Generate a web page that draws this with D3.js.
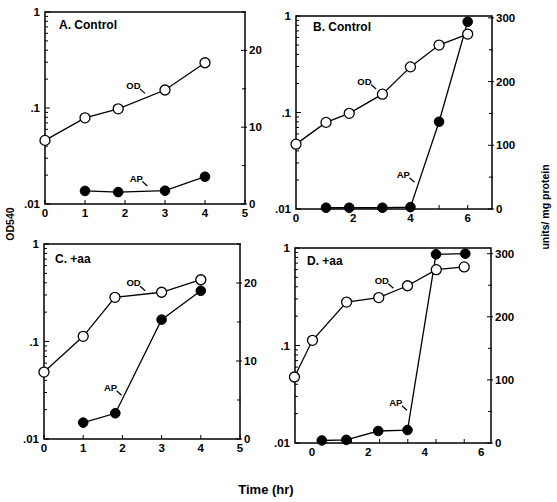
<!DOCTYPE html>
<html>
<head>
<meta charset="utf-8">
<script src="https://cdn.jsdelivr.net/npm/d3@7"></script>
<style>
  html, body { margin: 0; padding: 0; background: #fff; }
  text { font-family: "Liberation Sans", Arial, Helvetica, sans-serif; font-weight: bold; fill: #000; }
</style>
</head>
<body>
<svg id="chart" width="557" height="502"></svg>
<script>
// ---------------- DATA ----------------
// Panel A. Control
const odTimeA = [0, 1, 1.83, 3, 4];
const odA     = [0.046, 0.079, 0.098, 0.154, 0.296];
const apTimeA = [1, 1.83, 3, 4];
const apA     = [1.7, 1.55, 1.73, 3.55];

// Panel B. Control
const odTimeB = [0, 1.05, 1.86, 3.02, 4.0, 5.0, 6.0];
const odB     = [0.047, 0.079, 0.098, 0.155, 0.297, 0.50, 0.65];
const apTimeB = [1.05, 1.86, 3.02, 4.0, 5.0, 6.0];
const apB     = [2, 2, 2, 3, 137, 294];

// Panel C. +aa
const odTimeC = [0, 1, 1.81, 3, 4];
const odC     = [0.0486, 0.113, 0.284, 0.32, 0.43];
const apTimeC = [1, 1.82, 3, 4];
const apC     = [2.1, 3.3, 15.3, 19.0];

// Panel D. +aa
const odTimeD = [-0.62, 0.02, 1.23, 2.37, 3.39, 4.41, 5.4];
const odD     = [0.0475, 0.113, 0.279, 0.31, 0.41, 0.60, 0.64];
const apTimeD = [0.35, 1.22, 2.35, 3.39, 4.4, 5.44];
const apD     = [4, 5, 19, 20.5, 299, 300];

// Titles
const titles = ["A. Control", "B. Control", "C. +aa", "D. +aa"];

// Tick labels
const leftTickValues = [0.01, 0.1, 1];
const leftTickLabels = [".01", ".1", "1"];
const xTicksAC = [0, 1, 2, 3, 4, 5];
const xTicksBD = [0, 2, 4, 6];
const xMinorB  = [1, 2, 3, 4, 5, 6];
const xMinorD  = [0.4, 1.4, 2.4, 3.4, 4.4, 5.4];
const rightTicksAC = [0, 10, 20];
const rightMinorAC = [5, 15, 25];
const rightTicksBD = [0, 100, 200, 300];
const rightMinorBD = [50, 150, 250];

// Annotation anchors (data space: time, value)
const odLabelAt = [[2.5, 0.142], [2.8, 0.175], [2.58, 0.332], [2.89, 0.386]];
const apLabelAt = [[2.56, 2.34], [4.14, 42], [1.98, 5.6], [3.37, 52]];

// ---------------- LAYOUT ----------------
const layout = [
  { left: 45,  right: 245, top: 12,  bottom: 204, xDomain: [0, 5],        rDomain: [0, 25],  titleDx: 14, titleDy: 17 },
  { left: 296, right: 492, top: 16,  bottom: 209, xDomain: [0, 6.85],     rDomain: [0, 303], titleDx: 17, titleDy: 15 },
  { left: 44,  right: 240, top: 244, bottom: 439, xDomain: [0, 5],        rDomain: [0, 25],  titleDx: 11, titleDy: 18.5 },
  { left: 295, right: 491, top: 248, bottom: 443, xDomain: [-0.6, 6.35],  rDomain: [0, 309], titleDx: 12, titleDy: 17 }
];

const panels = [
  { od: [odTimeA, odA], ap: [apTimeA, apA], xTicks: xTicksAC, xMinor: xTicksAC, rTicks: rightTicksAC, rMinor: rightMinorAC },
  { od: [odTimeB, odB], ap: [apTimeB, apB], xTicks: xTicksBD, xMinor: xMinorB,  rTicks: rightTicksBD, rMinor: rightMinorBD },
  { od: [odTimeC, odC], ap: [apTimeC, apC], xTicks: xTicksAC, xMinor: xTicksAC, rTicks: rightTicksAC, rMinor: rightMinorAC },
  { od: [odTimeD, odD], ap: [apTimeD, apD], xTicks: xTicksBD, xMinor: xMinorD,  rTicks: rightTicksBD, rMinor: rightMinorBD }
];

const svg = d3.select("#chart");
svg.append("rect").attr("width", 557).attr("height", 502).attr("fill", "#fff");

panels.forEach((p, i) => {
  const L = layout[i];
  const g = svg.append("g");
  const x = d3.scaleLinear().domain(L.xDomain).range([L.left, L.right]);
  const yL = d3.scaleLog().domain([0.01, 1]).range([L.bottom, L.top]);
  const yR = d3.scaleLinear().domain(L.rDomain).range([L.bottom, L.top]);

  // frame
  g.append("rect")
    .attr("x", L.left).attr("y", L.top)
    .attr("width", L.right - L.left).attr("height", L.bottom - L.top)
    .attr("fill", "none").attr("stroke", "#000").attr("stroke-width", 1.5);

  // left log ticks (inside)
  const logTicks = yL.ticks();
  g.selectAll(".lt").data(logTicks).enter().append("line")
    .attr("x1", L.left)
    .attr("x2", d => L.left + (Math.abs(Math.log10(d) - Math.round(Math.log10(d))) < 1e-9 ? 5 : 3))
    .attr("y1", d => yL(d)).attr("y2", d => yL(d))
    .attr("stroke", "#000").attr("stroke-width", 1);
  g.selectAll(".ll").data(leftTickValues).enter().append("text")
    .attr("x", L.left - 5).attr("y", d => yL(d)).attr("dy", "0.35em")
    .attr("text-anchor", "end").attr("font-size", 11.5)
    .text((d, k) => leftTickLabels[k]);

  // right linear ticks
  g.selectAll(".rt").data(p.rTicks).enter().append("line")
    .attr("x1", L.right - 4).attr("x2", L.right + 2)
    .attr("y1", d => yR(d)).attr("y2", d => yR(d))
    .attr("stroke", "#000").attr("stroke-width", 1);
  g.selectAll(".rm").data(p.rMinor.filter(v => v <= L.rDomain[1])).enter().append("line")
    .attr("x1", L.right - 3).attr("x2", L.right + 1)
    .attr("y1", d => yR(d)).attr("y2", d => yR(d))
    .attr("stroke", "#000").attr("stroke-width", 1);
  g.selectAll(".rl").data(p.rTicks).enter().append("text")
    .attr("x", L.right + 4).attr("y", d => yR(d)).attr("dy", "0.35em")
    .attr("text-anchor", "start").attr("font-size", 11.5)
    .text(d => d);

  // x ticks (inside)
  g.selectAll(".xt").data(p.xMinor).enter().append("line")
    .attr("x1", d => x(d)).attr("x2", d => x(d))
    .attr("y1", L.bottom).attr("y2", L.bottom - 4)
    .attr("stroke", "#000").attr("stroke-width", 1);
  g.selectAll(".xl").data(p.xTicks).enter().append("text")
    .attr("x", d => x(d)).attr("y", L.bottom + 13)
    .attr("text-anchor", "middle").attr("font-size", 11.5)
    .text(d => d);

  // title
  g.append("text").attr("x", L.left + L.titleDx).attr("y", L.top + L.titleDy)
    .attr("font-size", 12).text(titles[i]);

  // series
  const odPts = p.od[0].map((t, k) => [t, p.od[1][k]]);
  const apPts = p.ap[0].map((t, k) => [t, p.ap[1][k]]);
  const lineOD = d3.line().x(d => x(d[0])).y(d => yL(d[1]));
  const lineAP = d3.line().x(d => x(d[0])).y(d => yR(d[1]));

  g.append("path").attr("d", lineAP(apPts)).attr("fill", "none")
    .attr("stroke", "#000").attr("stroke-width", 1.3);
  g.append("path").attr("d", lineOD(odPts)).attr("fill", "none")
    .attr("stroke", "#000").attr("stroke-width", 1.3);

  g.selectAll(".ap").data(apPts).enter().append("circle")
    .attr("cx", d => x(d[0])).attr("cy", d => yR(d[1])).attr("r", 4.8)
    .attr("fill", "#000").attr("stroke", "#000").attr("stroke-width", 1);
  g.selectAll(".od").data(odPts).enter().append("circle")
    .attr("cx", d => x(d[0])).attr("cy", d => yL(d[1])).attr("r", 5)
    .attr("fill", "#fff").attr("stroke", "#000").attr("stroke-width", 1.3);

  // annotations
  const odE = [x(odLabelAt[i][0]), yL(odLabelAt[i][1])];
  const apE = [x(apLabelAt[i][0]), yR(apLabelAt[i][1])];
  [[odE, "OD"], [apE, "AP"]].forEach(([e, lab]) => {
    g.append("line").attr("x1", e[0] - 5).attr("y1", e[1] - 4.5)
      .attr("x2", e[0]).attr("y2", e[1])
      .attr("stroke", "#000").attr("stroke-width", 1.2);
    g.append("text").attr("x", e[0] - 4.5).attr("y", e[1] - 4.5)
      .attr("text-anchor", "end").attr("font-size", 9.5).text(lab);
  });
});

// axis titles
svg.append("text").attr("transform", "translate(14,224) rotate(-90)")
  .attr("text-anchor", "middle").attr("font-size", 10.5).text("OD540");
svg.append("text").attr("transform", "translate(549,207) rotate(-90)")
  .attr("text-anchor", "middle").attr("font-size", 10.5).text("units/ mg protein");
svg.append("text").attr("x", 266).attr("y", 494)
  .attr("text-anchor", "middle").attr("font-size", 13).text("Time (hr)");
</script>
</body>
</html>
